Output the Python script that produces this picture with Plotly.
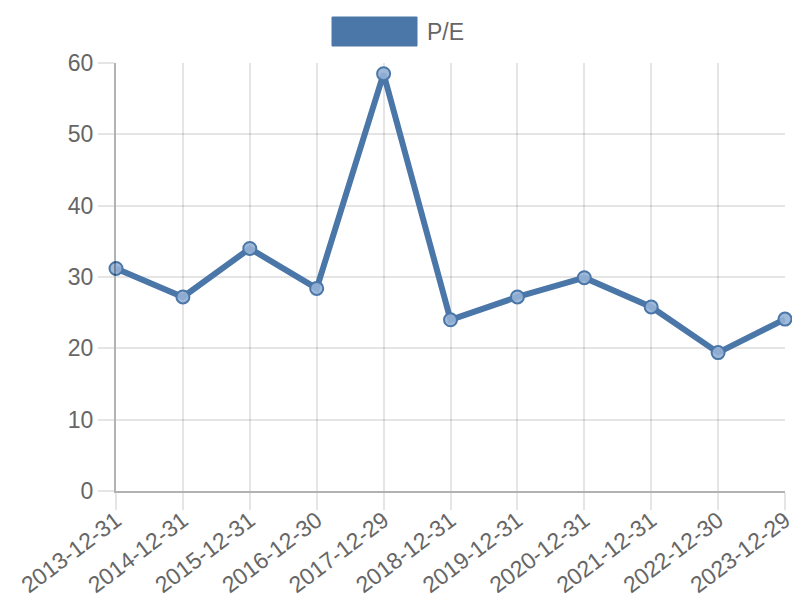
import plotly.graph_objects as go

dates = ["2013-12-31", "2014-12-31", "2015-12-31", "2016-12-30", "2017-12-29",
         "2018-12-31", "2019-12-31", "2020-12-31", "2021-12-31", "2022-12-30", "2023-12-29"]
pe_values = [31.2, 27.2, 34.0, 28.4, 58.5, 24.0, 27.2, 29.9, 25.8, 19.4, 24.1]
series_name = "P/E"
y_ticks = [0, 10, 20, 30, 40, 50, 60]

line_color = "rgb(74,118,168)"
font_family = "Liberation Sans, Arial, sans-serif"

# page body has an 8px margin; compensate so the plot lands at the reference position
OFF = 8
W, H = 800 - OFF, 600 - OFF
L, R, T, B = 116 - OFF, 15, 63 - OFF, 109
pw, ph = W - L - R, H - T - B

def px_x(p):
    return (p - OFF - L) / pw

def px_y(p):
    return (H - B - (p - OFF)) / ph

fig = go.Figure()
fig.add_trace(go.Scatter(
    x=dates, y=pe_values, mode="lines+markers", name=series_name,
    line=dict(color=line_color, width=6),
    marker=dict(size=13, color="rgba(150,178,214,0.9)", line=dict(color=line_color, width=2)),
    cliponaxis=False, showlegend=False,
))

fig.add_shape(type="rect", xref="paper", yref="paper",
              x0=px_x(332), x1=px_x(417), y0=px_y(46), y1=px_y(17),
              fillcolor=line_color, line=dict(color=line_color, width=1))
fig.add_annotation(xref="paper", yref="paper", x=px_x(425), y=px_y(32),
                   text=series_name, showarrow=False, xanchor="left", yanchor="middle",
                   font=dict(family=font_family, size=23, color="#666666"))

fig.update_layout(
    width=W, height=H,
    margin=dict(l=L, r=R, t=T, b=B, autoexpand=False),
    plot_bgcolor="white", paper_bgcolor="white",
    font=dict(family=font_family, size=24, color="#666666"),
    showlegend=False,
)
fig.update_xaxes(
    type="category", range=[0, len(dates) - 1], automargin=False,
    showgrid=True, gridcolor="rgba(0,0,0,0.1)", gridwidth=2,
    showline=True, linecolor="rgba(0,0,0,0.3)", linewidth=2,
    ticks="outside", ticklen=17, tickcolor="rgba(0,0,0,0.1)", tickwidth=2,
    tickangle=-37, tickfont=dict(size=23, color="#666666"),
    ticklabelstandoff=-12,
    zeroline=False,
)
fig.update_yaxes(
    range=[0, 60], tickvals=y_ticks, automargin=False,
    showgrid=True, gridcolor="rgba(0,0,0,0.1)", gridwidth=2,
    showline=True, linecolor="rgba(0,0,0,0.3)", linewidth=2,
    ticks="outside", ticklen=16, tickcolor="rgba(0,0,0,0.1)", tickwidth=2,
    tickfont=dict(size=23, color="#666666"),
    zeroline=False,
)

fig.write_html("out.html")
